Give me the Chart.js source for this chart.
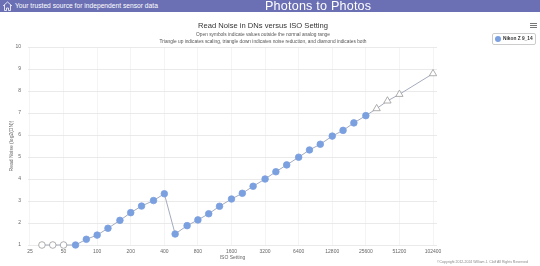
<!DOCTYPE html>
<html>
<head>
<meta charset="utf-8">
<script src="https://cdn.jsdelivr.net/npm/chart.js@4"></script>
<style>
  html, body { margin: 0; padding: 0; background: #fff; }
  body { width: 540px; height: 266px; position: relative; overflow: hidden; font-family: "Liberation Sans", Arial, sans-serif; }
  #header { position: absolute; left: 0; top: 0; width: 540px; height: 12px; background: #6b6fb3; color: #fff; }
  #header .tag { position: absolute; left: 15px; top: 2px; font-size: 6.7px; }
  #header .brand { position: absolute; left: 265px; top: -1px; font-size: 12.6px; letter-spacing: 0.2px; }
  #header svg { position: absolute; left: 2px; top: 1px; }
  #chartWrap { position: absolute; left: 0; top: 0; width: 540px; height: 266px; }
  .title { position: absolute; left: 0; width: 526px; text-align: center; color: #333; }
  #t1 { top: 21px; font-size: 7.6px; }
  #t2 { top: 31.5px; font-size: 4.8px; color: #555; }
  #t3 { top: 38.5px; font-size: 4.8px; color: #555; }
  #legend { position: absolute; left: 492px; top: 33px; width: 42px; height: 10px; border: 1px solid #ccc; border-radius: 2px; font-size: 4.8px; font-weight: bold; color: #333; }
  #legend i { position: absolute; left: 2px; top: 2px; width: 6px; height: 6px; border-radius: 50%; background: #7ba0e0; }
  #legend span { position: absolute; left: 10px; top: 2px; }
  #menu { position: absolute; left: 530px; top: 23px; width: 7px; }
  #menu b { display: block; height: 1px; background: #777; margin-bottom: 1px; }
  #copy { position: absolute; left: 437px; top: 260px; font-size: 3.5px; color: #888; white-space: nowrap; }
</style>
</head>
<body>
<div id="chartWrap"><canvas id="chart" width="540" height="266"></canvas></div>
<div id="header">
  <svg width="11" height="10" viewBox="0 0 11 10"><path d="M1 5 L5.5 1 L10 5 M2.5 4 V9.5 H4.5 V7 H6.5 V9.5 H8.5 V4" fill="none" stroke="#fff" stroke-width="0.8"/></svg>
  <span class="tag">Your trusted source for independent sensor data</span>
  <span class="brand">Photons to Photos</span>
</div>
<div class="title" id="t1">Read Noise in DNs versus ISO Setting</div>
<div class="title" id="t2">Open symbols indicate values outside the normal analog range</div>
<div class="title" id="t3">Triangle up indicates scaling, triangle down indicates noise reduction, and diamond indicates both</div>
<div id="menu"><b></b><b></b><b></b></div>
<div id="legend"><i></i><span>Nikon Z 9_14</span></div>
<div id="copy">©Copyright 2012-2024 William J. Claff All Rights Reserved</div>

<script>
// ISO settings (1/3 stop steps) and read noise in log2(DN)
const isoValues = [32, 40, 50, 64, 80, 100, 125, 160, 200, 250, 320, 400,
  500, 640, 800, 1000, 1250, 1600, 2000, 2500, 3200, 4000, 5000, 6400,
  8000, 10000, 12800, 16000, 20000, 25600, 32000, 40000, 51200, 102400];
const readNoise = [1.0, 1.0, 1.0, 1.0, 1.26, 1.45, 1.76, 2.12, 2.47, 2.77, 3.02, 3.33,
  1.5, 1.88, 2.14, 2.42, 2.76, 3.09, 3.35, 3.67, 4.0, 4.33, 4.64, 4.99,
  5.32, 5.58, 5.95, 6.21, 6.55, 6.88, 7.2, 7.55, 7.85, 8.79];
// 'open' = outside analog range, 'tri' = scaling, 'fill' = normal
const markerKind = ['open', 'open', 'open', 'fill', 'fill', 'fill', 'fill', 'fill', 'fill', 'fill', 'fill', 'fill',
  'fill', 'fill', 'fill', 'fill', 'fill', 'fill', 'fill', 'fill', 'fill', 'fill', 'fill', 'fill',
  'fill', 'fill', 'fill', 'fill', 'fill', 'fill', 'tri', 'tri', 'tri', 'tri'];
const isoTicks = [25, 50, 100, 200, 400, 800, 1600, 3200, 6400, 12800, 25600, 51200, 102400];
const yTicks = [1, 2, 3, 4, 5, 6, 7, 8, 9, 10];

const blue = '#7ba0e0';
const tickFont = { family: 'Liberation Sans', size: 5 };

new Chart(document.getElementById('chart'), {
  type: 'line',
  data: {
    datasets: [{
      label: 'Nikon Z 9_14',
      data: isoValues.map((iso, i) => ({ x: iso, y: readNoise[i] })),
      borderColor: '#a3abbd',
      borderWidth: 1,
      pointStyle: markerKind.map(k => k === 'tri' ? 'triangle' : 'circle'),
      pointRadius: markerKind.map(k => k === 'tri' ? 4.2 : 3.3),
      pointBackgroundColor: markerKind.map(k => k === 'fill' ? blue : '#fff'),
      pointBorderColor: markerKind.map(k => k === 'fill' ? blue : '#999'),
      pointBorderWidth: 0.8,
      tension: 0,
      clip: false
    }]
  },
  options: {
    responsive: false,
    animation: false,
    layout: { padding: { top: 47, right: 103, left: 0, bottom: 0 } },
    plugins: { legend: { display: false }, tooltip: { enabled: false } },
    scales: {
      x: {
        type: 'logarithmic',
        min: 24,
        max: 111200,
        afterBuildTicks: s => { s.ticks = isoTicks.map(v => ({ value: v })); },
        afterFit: s => { s.height = 21; },
        ticks: { font: tickFont, color: '#666', padding: 3.5, maxRotation: 0, autoSkip: false, callback: v => String(v) },
        grid: { color: '#ececec', lineWidth: 0.6, drawTicks: false },
        border: { display: false },
        title: { display: true, text: 'ISO Setting', font: { family: 'Liberation Sans', size: 5 }, color: '#666', padding: { top: 0, bottom: 5 } }
      },
      y: {
        min: 1,
        max: 10,
        afterBuildTicks: s => { s.ticks = yTicks.map(v => ({ value: v })); },
        afterFit: s => { s.width = 28; },
        ticks: { font: tickFont, color: '#666', padding: 7 },
        grid: { color: '#e4e4e4', lineWidth: 0.8, drawTicks: false },
        border: { display: false },
        title: { display: true, text: 'Read Noise (log2(DN))', font: { family: 'Liberation Sans', size: 5 }, color: '#666', padding: { top: 9, bottom: 0 } }
      }
    }
  }
});
</script>
</body>
</html>
